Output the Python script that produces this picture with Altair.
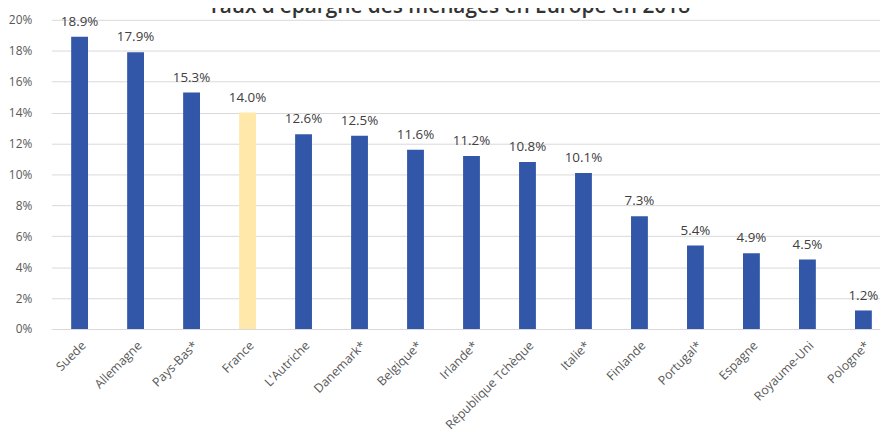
import altair as alt
import pandas as pd

countries = ["Suede", "Allemagne", "Pays-Bas*", "France", "L'Autriche", "Danemark*",
             "Belgique*", "Irlande*", "République Tchèque", "Italie*", "Finlande",
             "Portugal*", "Espagne", "Royaume-Uni", "Pologne*"]
rates = [18.9, 17.9, 15.3, 14.0, 12.6, 12.5, 11.6, 11.2, 10.8, 10.1, 7.3, 5.4, 4.9, 4.5, 1.2]
highlight = ["no", "no", "no", "yes", "no", "no", "no", "no", "no", "no", "no", "no", "no", "no", "no"]
y_ticks = [0, 2, 4, 6, 8, 10, 12, 14, 16, 18, 20]
title_text = "Taux d'épargne des ménages en Europe en 2018"

df = pd.DataFrame({"pays": countries, "taux": rates, "hl": highlight})
df["label"] = [f"{v:.1f}%" for v in rates]

FONT = "Open Sans"
GRAY = "#595959"

x = alt.X("pays:N", sort=countries, title=None,
          scale=alt.Scale(range=[0, 847.5], paddingInner=0.7, paddingOuter=0.35),
          axis=alt.Axis(labelAngle=-45, labelFontSize=12.5, labelColor=GRAY, labelFont=FONT,
                        ticks=False, domain=False, labelPadding=10, labelOverlap=False))
y = alt.Y("taux:Q", title=None,
          scale=alt.Scale(domain=[0, 20], nice=False),
          axis=alt.Axis(values=y_ticks, labelExpr="datum.value + '%'", labelFontSize=12,
                        labelColor=GRAY, labelFont=FONT, ticks=False, domain=False,
                        labelPadding=20, gridColor="#D9D9D9", gridWidth=1))

base = alt.Chart(df)
bars = base.mark_bar(size=17).encode(
    x=x, y=y,
    color=alt.Color("hl:N", scale=alt.Scale(domain=["no", "yes"], range=["#3257A8", "#FFE8AA"]),
                    legend=None),
)
labels = base.mark_text(baseline="alphabetic", dy=-11, fontSize=13.5, font=FONT, color="#404040").encode(
    x=x, y=y, text="label:N"
)

chart = (bars + labels).properties(
    width=836, height=312,
    autosize=alt.AutoSizeParams(type="none"),
    padding={"left": 44, "top": 10, "right": 0, "bottom": 104},
    title=alt.TitleParams(title_text, fontSize=21, font=FONT, color="#333333",
                          fontWeight=600, frame="group", offset=3, dx=-17, dy=6),
).configure_view(stroke=None)

chart.save("out.html", embed_options={"renderer": "svg", "actions": False})
